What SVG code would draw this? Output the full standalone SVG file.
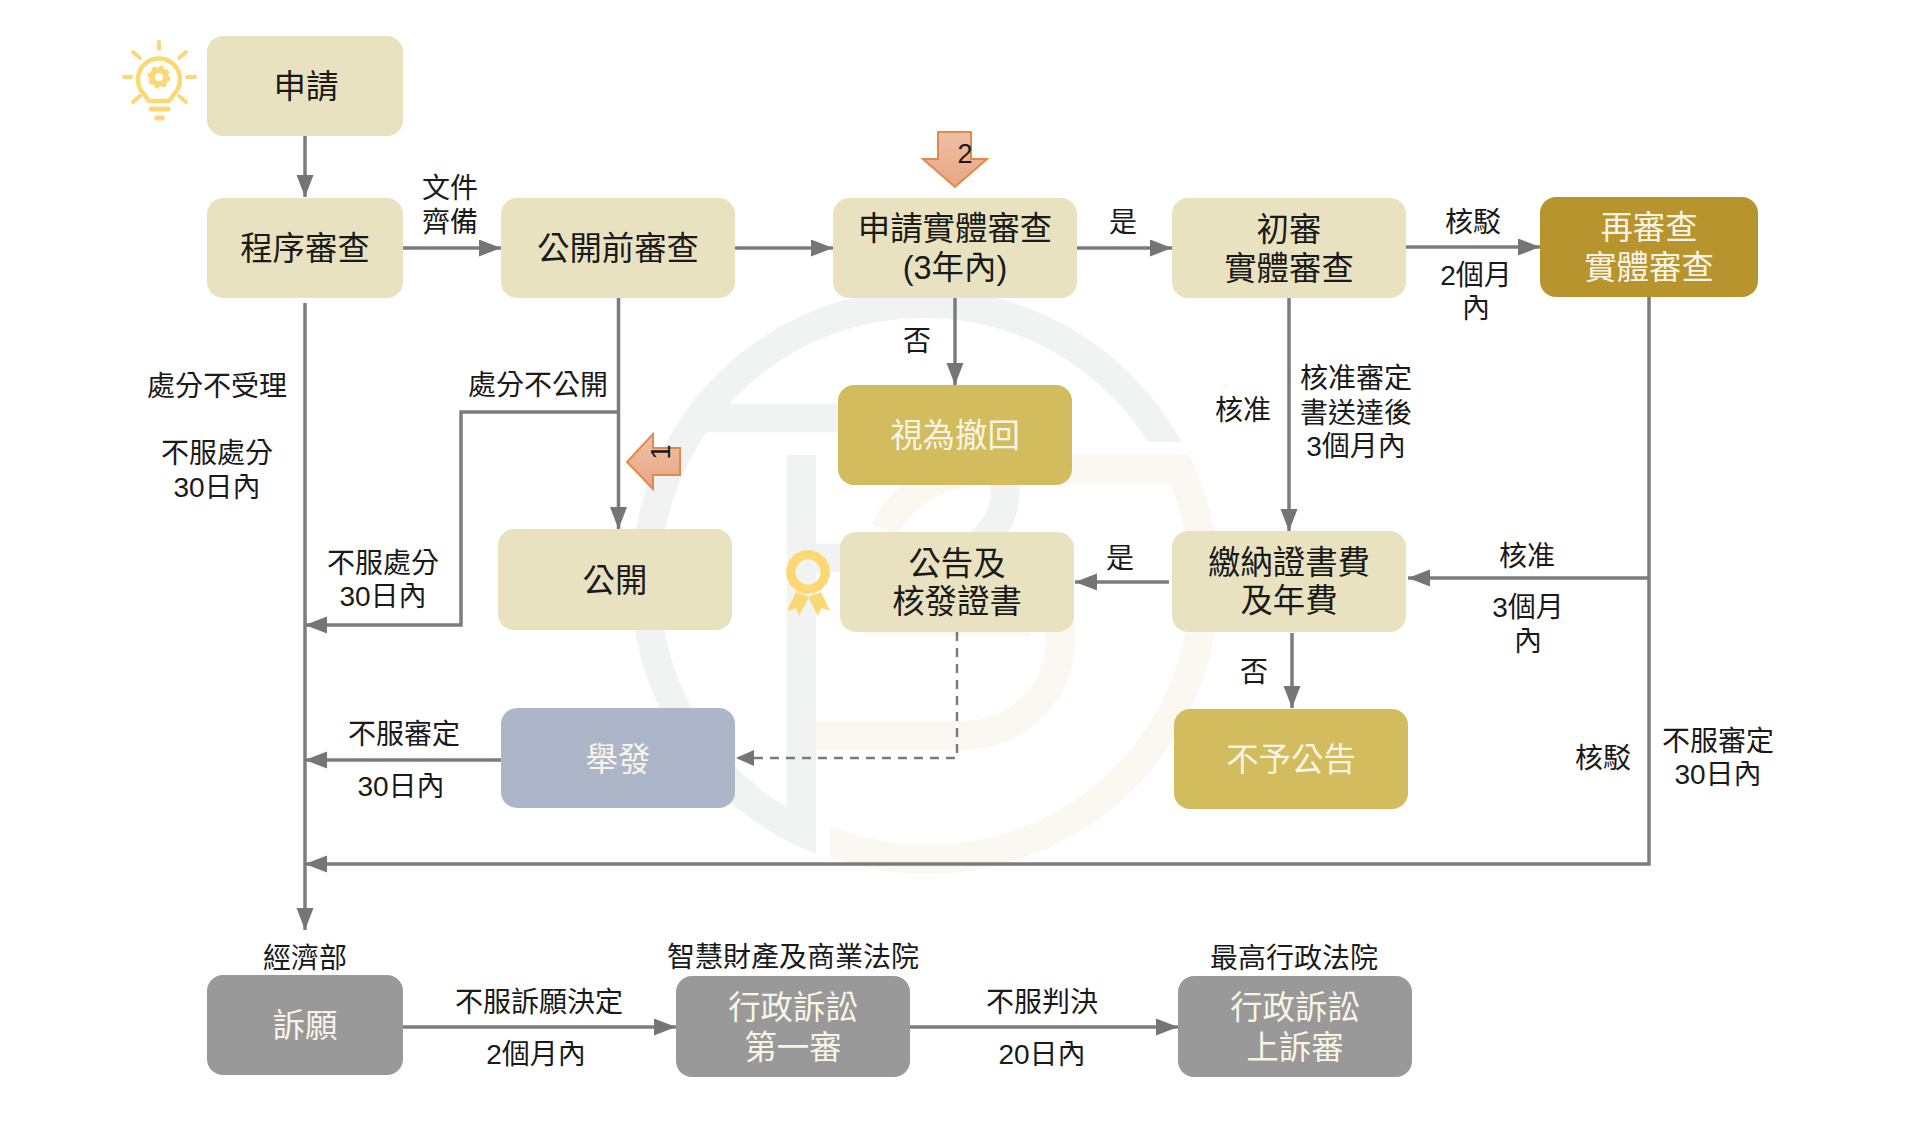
<svg xmlns="http://www.w3.org/2000/svg" width="1920" height="1121" viewBox="0 0 1920 1121">
<style>
text{font-family:"Liberation Sans","Noto Sans CJK TC",sans-serif;text-anchor:middle;fill:#1a1a1a}
.n{font-size:32.4px}
.w{font-size:32.4px;fill:#f8f5e6}
.l{font-size:28px}
.c{fill:#e8e2c0}.g{fill:#d2bc5d}.d{fill:#b8942f}.b{fill:#adb6c8}.y{fill:#999999}
.e{fill:none;stroke:#7c7c7c;stroke-width:3.5}
.h{marker-end:url(#ah)}
.wg{fill:none;stroke:#f1f3f2;stroke-width:29}
.wc{fill:none;stroke:#faf8f0;stroke-width:29}
.ic{fill:none;stroke:#fad974;stroke-linecap:round}
.ba{fill:url(#bg);stroke:#e28a4e;stroke-width:2}
</style>
<defs>
<marker id="ah" markerUnits="userSpaceOnUse" markerWidth="24" markerHeight="18" refX="22" refY="8.5" orient="auto"><path d="M0 0L22 8.5L0 17Z" fill="#757575"/></marker>
<marker id="ahd" markerUnits="userSpaceOnUse" markerWidth="20" markerHeight="18" refX="18" refY="8" orient="auto"><path d="M0 0L18 8L0 16Z" fill="#757575"/></marker>
<linearGradient id="bg" x1="0" y1="0" x2="0" y2="1"><stop offset="0" stop-color="#eec0a6"/><stop offset="1" stop-color="#e8a682"/></linearGradient>
<clipPath id="cg"><path d="M0 0H1920V442H816V1121H0Z"/></clipPath>
<clipPath id="cc"><path d="M830 455H1920V1121H830Z"/></clipPath>
</defs>
<rect width="1920" height="1121" fill="#fff"/>
<g id="watermark">
<circle class="wc" cx="928" cy="583" r="276.5" clip-path="url(#cc)"/>
<path class="wc" d="M816 735H965A95 95 0 0 0 1060.5 640V620M864 622H1030"/>
<path class="wc" d="M885 530C900 495 940 469 1000 469H1180"/>
<circle class="wg" cx="924" cy="582" r="278.5" clip-path="url(#cg)"/>
<path class="wg" d="M700 418H940C985 418 1005 455 1005 490C1005 530 975 558 930 558H802"/>
<path class="wg" d="M801.5 455V840"/>
</g>
<g id="connectors">
<path class="e h" d="M305 136V197"/>
<path class="e h" d="M403 248H501"/>
<path class="e h" d="M735 248H833"/>
<path class="e h" d="M1077 248H1172"/>
<path class="e h" d="M1406 247H1540"/>
<path class="e h" d="M305 303V930"/>
<path class="e h" d="M618.5 298V529"/>
<path class="e h" d="M618 412H461V625H305"/>
<path class="e h" d="M955 298V385"/>
<path class="e h" d="M1289 298V531"/>
<path class="e h" d="M1169 582H1075"/>
<path class="e h" d="M1292 633V708"/>
<path class="e h" d="M1649 297V864H305"/>
<path class="e h" d="M1649 578H1408"/>
<path class="e h" d="M501 760H305"/>
<path d="M957 632V758H736" fill="none" stroke="#7c7c7c" stroke-width="2.5" stroke-dasharray="9 7" marker-end="url(#ahd)"/>
<path class="e h" d="M403 1027H676"/>
<path class="e h" d="M910 1027H1178"/>
</g>
<g id="n1"><rect class="c" x="207" y="36" width="196" height="100" rx="16"/><text class="n" x="306" y="98">申請</text></g>
<g id="n2"><rect class="c" x="207" y="198" width="196" height="100" rx="16"/><text class="n" x="305" y="260">程序審查</text></g>
<g id="n3"><rect class="c" x="501" y="198" width="234" height="100" rx="16"/><text class="n" x="618" y="260">公開前審查</text></g>
<g id="n4"><rect class="c" x="833" y="198" width="244" height="100" rx="16"/><text class="n" x="955" y="240">申請實體審查</text><text class="n" x="955" y="279">(3年內)</text></g>
<g id="n5"><rect class="c" x="1172" y="198" width="234" height="100" rx="16"/><text class="n" x="1289" y="241">初審</text><text class="n" x="1289" y="280">實體審查</text></g>
<g id="n6"><rect class="d" x="1540" y="197" width="218" height="100" rx="16"/><text class="w" x="1649" y="239">再審查</text><text class="w" x="1649" y="279">實體審查</text></g>
<g id="n7"><rect class="g" x="838" y="385" width="234" height="100" rx="16"/><text class="w" x="955" y="447">視為撤回</text></g>
<g id="n8"><rect class="c" x="498" y="529" width="234" height="101" rx="16"/><text class="n" x="615" y="592">公開</text></g>
<g id="n9"><rect class="c" x="840" y="532" width="234" height="100" rx="16"/><text class="n" x="957" y="575">公告及</text><text class="n" x="957" y="613">核發證書</text></g>
<g id="n10"><rect class="c" x="1172" y="531" width="234" height="101" rx="16"/><text class="n" x="1289" y="574">繳納證書費</text><text class="n" x="1289" y="612">及年費</text></g>
<g id="n11"><rect class="b" x="501" y="708" width="234" height="100" rx="16"/><text class="w" x="618" y="771">舉發</text></g>
<g id="n12"><rect class="g" x="1174" y="709" width="234" height="100" rx="16"/><text class="w" x="1291" y="771">不予公告</text></g>
<g id="n13"><rect class="y" x="207" y="975" width="196" height="100" rx="16"/><text class="w" x="305" y="1037">訴願</text></g>
<g id="n14"><rect class="y" x="676" y="976" width="234" height="101" rx="16"/><text class="w" x="793" y="1019">行政訴訟</text><text class="w" x="793" y="1059">第一審</text></g>
<g id="n15"><rect class="y" x="1178" y="976" width="234" height="101" rx="16"/><text class="w" x="1295" y="1019">行政訴訟</text><text class="w" x="1295" y="1059">上訴審</text></g>
<g id="labels">
<text class="l" x="450" y="198">文件</text><text class="l" x="450" y="232">齊備</text>
<text class="l" x="217" y="396">處分不受理</text>
<text class="l" x="217" y="463">不服處分</text><text class="l" x="217" y="497">30日內</text>
<text class="l" x="538" y="395">處分不公開</text>
<text class="l" x="383" y="573">不服處分</text><text class="l" x="383" y="606">30日內</text>
<text class="l" x="917" y="351">否</text>
<text class="l" x="1123" y="232">是</text>
<text class="l" x="1473" y="232">核駁</text>
<text class="l" x="1476" y="285">2個月</text><text class="l" x="1476" y="318">內</text>
<text class="l" x="1243" y="420">核准</text>
<text class="l" x="1356" y="388">核准審定</text><text class="l" x="1356" y="423">書送達後</text><text class="l" x="1356" y="456">3個月內</text>
<text class="l" x="1120" y="568">是</text>
<text class="l" x="1527" y="566">核准</text>
<text class="l" x="1528" y="617">3個月</text><text class="l" x="1528" y="651">內</text>
<text class="l" x="1254" y="682">否</text>
<text class="l" x="404" y="744">不服審定</text><text class="l" x="401" y="796">30日內</text>
<text class="l" x="1603" y="768">核駁</text>
<text class="l" x="1718" y="751">不服審定</text><text class="l" x="1718" y="784">30日內</text>
<text class="l" x="305" y="968">經濟部</text>
<text class="l" x="793" y="967">智慧財產及商業法院</text>
<text class="l" x="1294" y="968">最高行政法院</text>
<text class="l" x="539" y="1012">不服訴願決定</text><text class="l" x="536" y="1064">2個月內</text>
<text class="l" x="1042" y="1012">不服判決</text><text class="l" x="1042" y="1064">20日內</text>
</g>
<g id="bulb">
<path class="ic" stroke-width="4.5" d="M149 101L143 93A21 21 0 1 1 175 93L169 101Z"/>
<path class="ic" stroke-width="5" d="M151 109H168M157 118H162"/>
<path class="ic" stroke-width="4" d="M159 42V49M133 52L140 58M186 52L179 58M124 77H131M187 77H195M133 102L140 96M186 102L179 96"/>
<circle cx="159" cy="77" r="7" fill="none" stroke="#fad974" stroke-width="6"/>
<circle cx="159" cy="77" r="10" fill="none" stroke="#fad974" stroke-width="3" stroke-dasharray="4 3.85"/>
</g>
<g id="ribbon">
<path d="M796 592L787 611L796 608L799 616L809 597ZM821 592L830 611L821 608L818 616L808 597Z" fill="#fad974"/>
<circle cx="808" cy="572" r="17" fill="none" stroke="#fad974" stroke-width="9"/>
<circle cx="808" cy="572" r="20.5" fill="none" stroke="#fad974" stroke-width="3" stroke-dasharray="5 3"/>
</g>
<g id="arrow1"><path class="ba" d="M627 462L653 434V448H680V475H653V489Z"/><text transform="translate(670 452) rotate(-90)" style="font-size:27px">1</text></g>
<g id="arrow2"><path class="ba" d="M955 187L923 159H938V132H971V159H987Z"/><text x="965" y="163" style="font-size:27px">2</text></g>
</svg>
